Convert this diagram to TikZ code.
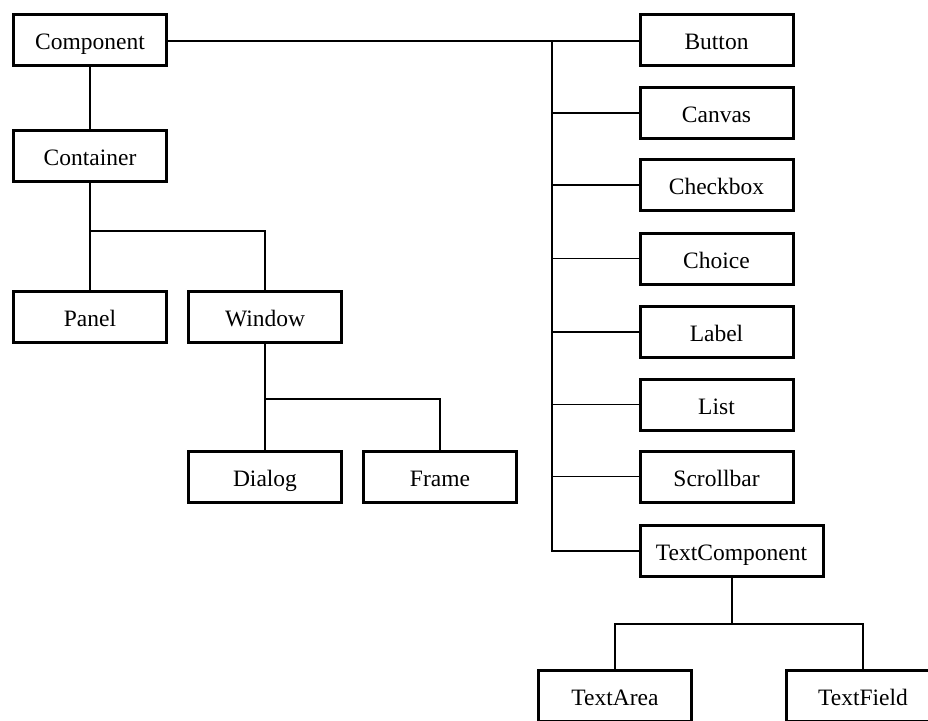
\documentclass[tikz,border=0pt]{standalone}
\usepackage{fontspec}
\setmainfont{Liberation Serif}
\begin{document}
\begin{tikzpicture}[x=1pt,y=-1pt,
  cls/.style={draw=black,line width=3pt,fill=white,inner sep=0pt,
    minimum width=153pt,minimum height=51pt,
    text height=19.5pt,text depth=0.5pt,
    font=\fontsize{23.5}{27}\selectfont},
  wide/.style={cls,minimum width=183pt},
  link/.style={draw=black,line width=1.4pt}]
\useasboundingbox (0,0) rectangle (928,720);
\clip (0,0) rectangle (928,720);
\fill[white] (0,0) rectangle (928,720);

% left hierarchy
\node[cls] (component) at (90,39.5) {Component};
\node[cls] (container) at (90,155.5) {Container};
\node[cls] (panel) at (90,316.5) {Panel};
\node[cls] (window) at (265,316.5) {Window};
\node[cls] (dialog) at (265,477) {Dialog};
\node[cls] (frame) at (440,477) {Frame};

% right column of components
\node[cls] (button) at (716.5,39.5) {Button};
\node[cls] (canvas) at (716.5,113) {Canvas};
\node[cls] (checkbox) at (716.5,185) {Checkbox};
\node[cls] (choice) at (716.5,258.5) {Choice};
\node[cls] (label) at (716.5,332) {Label};
\node[cls] (list) at (716.5,404.5) {List};
\node[cls] (scrollbar) at (716.5,476.5) {Scrollbar};
\node[wide] (textcomp) at (731.5,551) {TextComponent};
\node[cls] (textarea) at (615,696) {TextArea};
\node[cls] (textfield) at (863,696) {TextField};

% junction points
\coordinate (trunk) at (552,41);
\coordinate (trunkend) at (552,551);
\coordinate (cjoin) at (90,231);
\coordinate (wjoin) at (265,399);
\coordinate (tjoin) at (732,624);

% Component tree
\draw[link] (component.east |- trunk) -- (button.west |- trunk);
\draw[link] (trunk) -- (trunkend) -- (textcomp.west |- trunkend);
\foreach \n in {canvas,checkbox,choice,label,list,scrollbar}
  \draw[link] (trunk |- \n.west) -- (\n.west);
\draw[link] (component.south) -- (container.north);

% Container tree
\draw[link] (container.south) -- (cjoin) -| (window.north);
\draw[link] (cjoin) -- (panel.north);

% Window tree
\draw[link] (window.south) -- (wjoin) -| (frame.north);
\draw[link] (wjoin) -- (dialog.north);

% TextComponent tree
\draw[link] (textcomp.south -| tjoin) -- (tjoin);
\draw[link] (tjoin) -| (textarea.north);
\draw[link] (tjoin) -| (textfield.north);
\end{tikzpicture}
\end{document}
